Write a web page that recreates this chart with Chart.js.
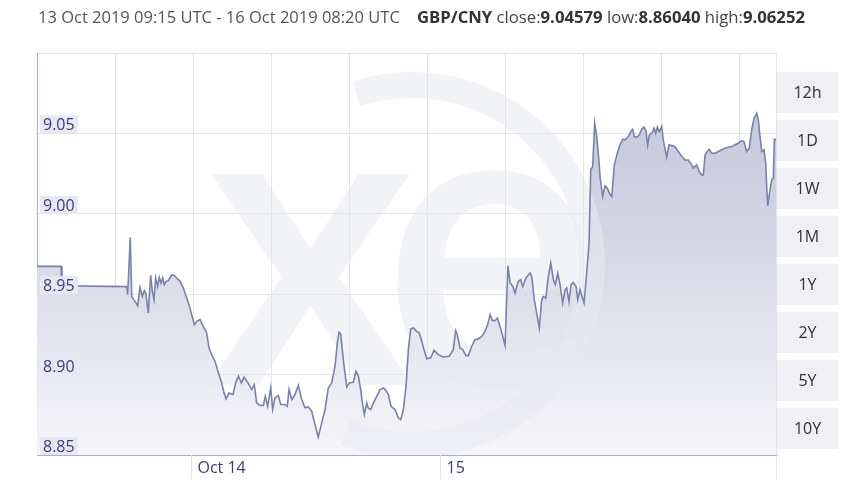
<!DOCTYPE html>
<html>
<head>
<meta charset="utf-8">
<script src="https://cdn.jsdelivr.net/npm/chart.js@4/dist/chart.umd.min.js"></script>
<style>
  body { margin: 0; background: #fff; font-family: "Open Sans", sans-serif; }
  #wrap { position: relative; width: 850px; height: 487px; overflow: hidden; }
  #c { position: absolute; left: 0; top: 0; }
  .title { position: absolute; top: 7px; font-size: 16.5px; line-height: 20px; white-space: nowrap; color: #555; }
  .title b { color: #333; font-weight: 700; }
  .pair { color: #444; font-size: 16.7px; }
  #sep { position: absolute; left: 776px; top: 53px; width: 1px; height: 427px; background: #e4e4e8; }
  .btn { position: absolute; left: 777px; width: 61px; height: 41px; background: #f0f0f4;
         color: #333; font-size: 16px; line-height: 41px; text-align: center; }
</style>
</head>
<body>
<div id="wrap">
  <canvas id="c" width="850" height="487"></canvas>
  <div class="title" style="left:38px">13 Oct 2019 09:15 UTC - 16 Oct 2019 08:20 UTC</div>
  <div class="title pair" style="left:417px"><b>GBP/CNY</b> close:<b>9.04579</b> low:<b>8.86040</b> high:<b>9.06252</b></div>
  <div id="sep"></div>
  <div id="btns"></div>
</div>
<script>
// horas desde 13 Oct 2019 00:00 UTC
const hours = [
  9.25, 11.56, 11.65, 17.87, 17.96, 18.21, 18.35, 18.66, 18.92, 19.14,
  19.37, 19.56, 19.72, 19.94, 20.17, 20.33, 20.49, 20.65, 20.84, 21.00,
  21.16, 21.32, 21.48, 21.64, 21.86, 22.19, 22.44, 22.67, 22.99, 23.30,
  23.63, 23.85, 24.11, 24.36, 24.59, 24.91, 25.22, 25.55, 25.77, 26.03,
  26.35, 26.67, 26.97, 27.21, 27.41, 27.69, 28.08, 28.37, 28.61, 28.89,
  29.13, 29.52, 29.87, 30.12, 30.35, 30.67, 30.99, 31.18, 31.41, 31.70,
  31.89, 32.11, 32.43, 32.66, 33.07, 33.29, 33.46, 33.72, 34.03, 34.35,
  34.68, 34.99, 35.31, 35.64, 35.95, 36.27, 36.60, 36.92, 37.23, 37.56,
  37.88, 38.10, 38.26, 38.42, 38.67, 39.00, 39.25, 39.63, 39.89, 40.11,
  40.34, 40.54, 40.69, 40.92, 41.07, 41.31, 41.56, 41.81, 42.20, 42.52,
  42.71, 43.00, 43.26, 43.64, 43.96, 44.19, 44.44, 44.70, 44.92, 45.15,
  45.40, 45.72, 45.97, 46.21, 46.43, 46.69, 47.07, 47.39, 47.80, 48.28,
  48.86, 49.24, 49.47, 49.62, 49.88, 50.14, 50.46, 50.68, 51.01, 51.32,
  51.64, 51.97, 52.28, 52.54, 52.77, 52.99, 53.25, 53.47, 53.73, 53.99,
  54.21, 54.37, 54.49, 54.69, 54.95, 55.17, 55.48, 55.71, 55.91, 56.22,
  56.61, 56.77, 57.02, 57.25, 57.50, 57.73, 57.89, 58.12, 58.37, 58.60,
  58.85, 59.04, 59.27, 59.49, 59.75, 59.97, 60.13, 60.35, 60.55, 60.77,
  61.03, 61.19, 61.41, 61.60, 61.80, 62.05, 62.28, 62.44, 62.63, 62.82,
  63.02, 63.21, 63.33, 63.59, 63.81, 64.03, 64.23, 64.46, 64.71, 64.99,
  65.25, 65.51, 65.73, 66.05, 66.28, 66.47, 66.63, 66.86, 67.11, 67.34,
  67.56, 67.75, 67.91, 68.07, 68.30, 68.52, 68.68, 68.84, 69.03, 69.26,
  69.41, 69.74, 69.96, 70.22, 70.54, 70.85, 71.18, 71.50, 71.81, 72.14,
  72.29, 72.62, 72.87, 73.10, 73.26, 73.42, 73.64, 73.83, 74.06, 74.38,
  74.70, 75.02, 75.34, 75.66, 75.98, 76.30, 76.62, 76.94, 77.16, 77.42,
  77.67, 77.90, 78.13, 78.39, 78.54, 78.70, 78.87, 79.09, 79.25, 79.35,
  79.44, 79.66, 79.83, 79.98, 80.08, 80.33
];
const rates = [
  8.9673, 8.9673, 8.9553, 8.9547, 8.9497, 8.9853, 8.9486, 8.9455, 8.9429, 8.9542,
  8.9486, 8.9522, 8.9501, 8.9383, 8.9617, 8.9517, 8.9466, 8.9601, 8.9548, 8.9604,
  8.9570, 8.9601, 8.9559, 8.9580, 8.9584, 8.9621, 8.9617, 8.9601, 8.9580, 8.9539,
  8.9476, 8.9435, 8.9373, 8.9311, 8.9331, 8.9342, 8.9300, 8.9259, 8.9166, 8.9124,
  8.9083, 8.9012, 8.8953, 8.8888, 8.8849, 8.8885, 8.8876, 8.8958, 8.8989, 8.8948,
  8.8984, 8.8948, 8.8907, 8.8938, 8.8824, 8.8808, 8.8808, 8.8865, 8.8803, 8.8917,
  8.8783, 8.8855, 8.8870, 8.8814, 8.8814, 8.8803, 8.8907, 8.8845, 8.8876, 8.8932,
  8.8845, 8.8793, 8.8799, 8.8772, 8.8689, 8.8612, 8.8700, 8.8783, 8.8917, 8.8948,
  8.9052, 8.9197, 8.9263, 8.9255, 8.9093, 8.8924, 8.8948, 8.8952, 8.9021, 8.8994,
  8.8907, 8.8808, 8.8752, 8.8824, 8.8793, 8.8783, 8.8824, 8.8855, 8.8907, 8.8917,
  8.8907, 8.8876, 8.8803, 8.8783, 8.8731, 8.8720, 8.8783, 8.8927, 8.9155, 8.9284,
  8.9290, 8.9269, 8.9259, 8.9207, 8.9155, 8.9098, 8.9104, 8.9151, 8.9124, 8.9110,
  8.9114, 8.9155, 8.9273, 8.9248, 8.9166, 8.9155, 8.9118, 8.9118, 8.9176, 8.9217,
  8.9222, 8.9238, 8.9269, 8.9311, 8.9373, 8.9337, 8.9335, 8.9352, 8.9300, 8.9238,
  8.9182, 8.9466, 8.9677, 8.9571, 8.9548, 8.9507, 8.9580, 8.9590, 8.9548, 8.9601,
  8.9632, 8.9611, 8.9466, 8.9383, 8.9290, 8.9466, 8.9486, 8.9476, 8.9611, 8.9694,
  8.9590, 8.9559, 8.9632, 8.9559, 8.9445, 8.9528, 8.9539, 8.9455, 8.9559, 8.9573,
  8.9548, 8.9466, 8.9528, 8.9486, 8.9445, 8.9632, 8.9818, 9.0273, 9.0294, 9.0563,
  9.0480, 9.0346, 9.0232, 9.0107, 9.0174, 9.0160, 9.0129, 9.0107, 9.0304, 9.0377,
  9.0429, 9.0464, 9.0460, 9.0480, 9.0511, 9.0526, 9.0480, 9.0476, 9.0491, 9.0526,
  9.0539, 9.0517, 9.0429, 9.0491, 9.0501, 9.0532, 9.0501, 9.0539, 9.0511, 9.0542,
  9.0460, 9.0352, 9.0429, 9.0424, 9.0418, 9.0387, 9.0356, 9.0335, 9.0335, 9.0304,
  9.0284, 9.0304, 9.0263, 9.0242, 9.0242, 9.0366, 9.0387, 9.0402, 9.0377, 9.0377,
  9.0387, 9.0398, 9.0408, 9.0414, 9.0418, 9.0429, 9.0439, 9.0455, 9.0449, 9.0387,
  9.0408, 9.0522, 9.0594, 9.0625, 9.0584, 9.0480, 9.0387, 9.0398, 9.0315, 9.0160,
  9.0050, 9.0149, 9.0211, 9.0222, 9.0464, 9.0458
];
const yTicks = [8.85, 8.90, 8.95, 9.00, 9.05];
const yTickLabels = ['8.85', '8.90', '8.95', '9.00', '9.05'];
const xTickHours = [24, 48];
const xTickLabels = ['Oct 14', '15'];
const ranges = ['12h', '1D', '1W', '1M', '1Y', '2Y', '5Y', '10Y'];

// botones de rango a la derecha
const btns = document.getElementById('btns');
ranges.forEach((r, i) => {
  const d = document.createElement('div');
  d.className = 'btn';
  d.style.top = (72 + i * 48) + 'px';
  d.textContent = r;
  btns.appendChild(d);
});

const xMin = 9.25, xMax = 80.333;

// marca de agua "xe"
const marcaAgua = {
  id: 'marcaAgua',
  beforeDatasetsDraw(chart) {
    const { ctx, chartArea: a } = chart;
    ctx.save();
    ctx.beginPath();
    ctx.rect(a.left, a.top, a.right - a.left, a.bottom - a.top);
    ctx.clip();
    ctx.fillStyle = 'rgba(232,233,241,0.55)';
    ctx.strokeStyle = 'rgba(232,233,241,0.55)';
    ctx.font = '600 390px "Open Sans"';
    ctx.textBaseline = 'alphabetic';
    ctx.fillText('x', 203, 385);
    ctx.fillText('e', 378, 385);
    ctx.lineWidth = 26;
    ctx.beginPath();
    ctx.arc(412, 265, 180, -Math.PI * 0.6, Math.PI * 0.62);
    ctx.stroke();
    ctx.restore();
  }
};

// etiquetas de ejes
const etiquetas = {
  id: 'etiquetas',
  afterDraw(chart) {
    const { ctx, chartArea: a, scales: { x, y } } = chart;
    ctx.save();
    ctx.font = '16px "Open Sans"';
    ctx.textBaseline = 'alphabetic';
    yTicks.forEach((v, i) => {
      const py = y.getPixelForValue(v);
      ctx.fillStyle = '#e8e8f2';
      ctx.fillRect(a.left + 3, py - 18, 38, 18);
      ctx.fillStyle = '#3c4079';
      ctx.fillText(yTickLabels[i], a.left + 6, py - 3);
    });
    xTickHours.forEach((h, i) => {
      const px = Math.round(x.getPixelForValue(h)) + 0.5;
      ctx.strokeStyle = '#e0e0e6';
      ctx.lineWidth = 1;
      ctx.beginPath();
      ctx.moveTo(px, a.bottom);
      ctx.lineTo(px, a.bottom + 24);
      ctx.stroke();
      ctx.fillStyle = '#3c4079';
      ctx.fillText(xTickLabels[i], px + 6, a.bottom + 18);
    });
    ctx.restore();
  }
};

new Chart(document.getElementById('c'), {
  type: 'line',
  data: {
    datasets: [{
      data: hours.map((h, i) => ({ x: h, y: rates[i] })),
      borderColor: '#7a82aa',
      borderWidth: 1.6,
      pointRadius: 0,
      tension: 0,
      fill: 'start',
      backgroundColor(context) {
        const a = context.chart.chartArea;
        if (!a) return 'rgba(200,203,220,0.6)';
        const g = context.chart.ctx.createLinearGradient(0, a.top, 0, a.bottom);
        g.addColorStop(0, 'rgb(192,195,216)');
        g.addColorStop(0.5, 'rgb(214,216,230)');
        g.addColorStop(1, 'rgb(246,246,249)');
        return g;
      }
    }]
  },
  options: {
    responsive: false,
    animation: false,
    layout: { padding: { left: 37, top: 53, right: 73, bottom: 32 } },
    plugins: {
      legend: { display: false },
      tooltip: { enabled: false },
      filler: { drawTime: 'beforeDatasetsDraw' }
    },
    scales: {
      x: {
        type: 'linear',
        min: xMin,
        max: xMax,
        afterBuildTicks(scale) {
          const t = [];
          for (let v = xMin; v < xMax; v += 7.5) t.push({ value: v });
          scale.ticks = t;
        },
        ticks: { display: false },
        grid: { color: '#e2e2e7', drawTicks: false },
        border: { color: '#a9aed0', width: 1 }
      },
      y: {
        min: 8.85,
        max: 9.10,
        afterBuildTicks(scale) {
          scale.ticks = yTicks.concat([9.10]).map(v => ({ value: v }));
        },
        ticks: { display: false },
        grid: { color: '#e2e2e7', drawTicks: false },
        border: { color: '#a9aed0', width: 1 }
      }
    }
  },
  plugins: [marcaAgua, etiquetas]
});
</script>
</body>
</html>
